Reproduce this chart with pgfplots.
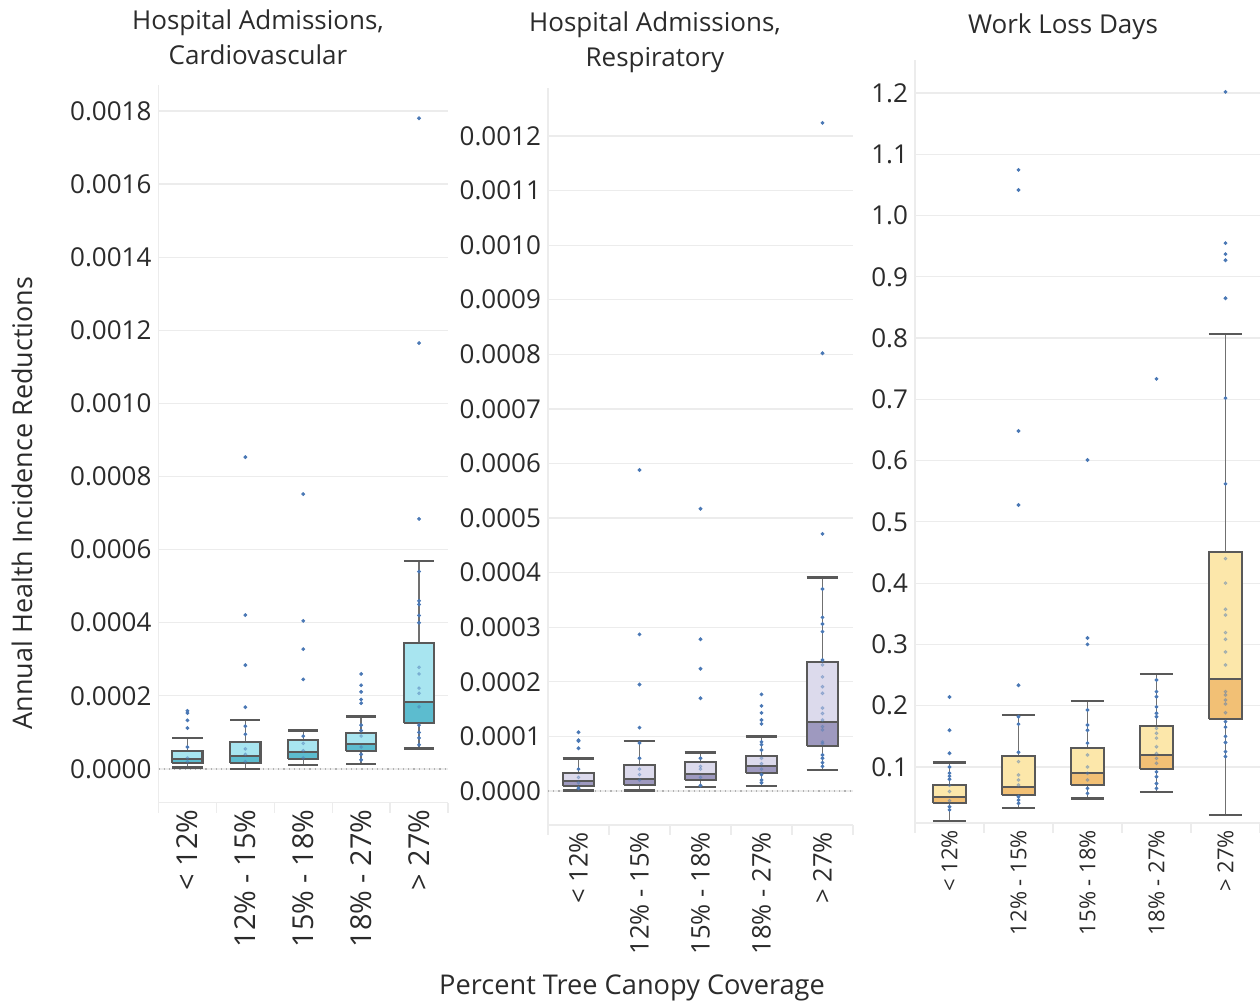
\documentclass[border=0pt]{standalone}
\usepackage{fontspec}
\setmainfont{Open Sans}
\usepackage{pgfplots}
\pgfplotsset{compat=1.18}
\definecolor{labc}{HTML}{2B2B2B}
\definecolor{gridc}{HTML}{ECECEC}
\definecolor{bxc}{HTML}{595959}
\definecolor{whc}{HTML}{707070}
\definecolor{dotc}{HTML}{4A78B5}
\definecolor{c1l}{HTML}{A8E5F0}
\definecolor{c1d}{HTML}{5CBCCF}
\definecolor{c2l}{HTML}{DCDAEC}
\definecolor{c2d}{HTML}{9E99BF}
\definecolor{c3l}{HTML}{FCE7AA}
\definecolor{c3d}{HTML}{F2C075}
% #1 left, #2 centre, #3 right, #4 lower whisker, #5 Q1, #6 median, #7 Q3, #8 upper whisker
\newcommand{\bx}[8]{%
\addplot[draw=whc, line width=0.7pt] coordinates {(#2,#4) (#2,#5)};
\addplot[draw=whc, line width=0.7pt] coordinates {(#2,#7) (#2,#8)};
\addplot[draw=bxc, line width=1.4pt] coordinates {(#1,#4) (#3,#4)};
\addplot[draw=bxc, line width=1.4pt] coordinates {(#1,#8) (#3,#8)};
\addplot[draw=bxc, line width=1.1pt, fill=lightc] coordinates {(#1,#6) (#3,#6) (#3,#7) (#1,#7) (#1,#6)};
\addplot[draw=bxc, line width=1.1pt, fill=darkc] coordinates {(#1,#5) (#3,#5) (#3,#6) (#1,#6) (#1,#5)};
}
\pgfplotsset{
  panel/.style={
    scale only axis, anchor=south west,
    xmin=-0.5, xmax=4.5,
    xtick={0,1,2,3,4},
    xticklabels={{< 12\%},{12\% - 15\%},{15\% - 18\%},{18\% - 27\%},{> 27\%}},
    x tick label style={rotate=90, anchor=east, text=labc},
    minor xtick={-0.5,0.5,1.5,2.5,3.5,4.5},
    major tick length=0pt, minor tick length=5pt,
    tick align=outside,
    tick style={draw=gridc, line width=0.6pt},
    axis lines*=left,
    axis line style={draw=gridc, line width=0.6pt},
    ymajorgrids, grid style={draw=gridc, line width=0.6pt},
    y tick label style={font=\fontsize{13}{15}\selectfont, text=labc},
    scaled y ticks=false,
  },
  idots/.style={only marks, mark=*, mark size=0.75pt, color=dotc, opacity=0.35},
  wdots/.style={only marks, mark=*, mark size=0.75pt, color=dotc},
}
\begin{document}
\begin{tikzpicture}
\useasboundingbox (0,0) rectangle (630pt,502pt);
% ---------- Panel 1 ----------
\colorlet{lightc}{c1l}\colorlet{darkc}{c1d}
\begin{axis}[panel, at={(79.25pt,100.65pt)}, width=144.75pt, height=358.85pt,
  ymin=-0.0000922, ymax=0.001871,
  x tick label style={font=\fontsize{14.4}{16}\selectfont},
  ytick={0,0.0002,0.0004,0.0006,0.0008,0.0010,0.0012,0.0014,0.0016,0.0018},
  yticklabel style={/pgf/number format/fixed, /pgf/number format/fixed zerofill, /pgf/number format/precision=4, /pgf/number format/assume math mode=true}]
\addplot[draw=gray!60, dotted, line width=0.6pt] coordinates {(-0.5,0) (4.5,0)};
\bx{-0.26}{0}{0.26}{0.0000046}{0.0000156}{0.0000265}{0.0000492}{0.0000848}
\bx{0.74}{1}{1.26}{0.0000000}{0.0000156}{0.0000356}{0.0000730}{0.000134}
\bx{1.74}{2}{2.26}{0.0000109}{0.0000282}{0.0000465}{0.0000793}{0.000106}
\bx{2.74}{3}{3.26}{0.0000137}{0.0000500}{0.0000675}{0.0000976}{0.000144}
\bx{3.74}{4}{4.26}{0.0000566}{0.000125}{0.000184}{0.000345}{0.000569}
\addplot[idots] coordinates {(0,0.00003) (0,0.00002) (1,0.000055) (1,0.00004) (1,0.00002) (2,0.00007) (2,0.00005) (2,0.00003)
 (3,0.00009) (3,0.00006) (4,0.000278) (4,0.00026) (4,0.000221) (4,0.000207) (4,0.00017)};
\addplot[wdots] coordinates {(0,0.00006) (0,0.000159) (0,0.000153) (0,0.000133) (0,0.000112)
 (1,0.000117) (1,0.000095) (1,0.000169) (1,0.000284) (1,0.000421) (1,0.000853)
 (2,0.00009) (2,0.000245) (2,0.000328) (2,0.000405) (2,0.000752)
 (3,0.00012) (3,0.000105) (3,0.00004) (3,0.000025) (3,0.00018) (3,0.00019) (3,0.000211) (3,0.000229) (3,0.00026)
 (4,0.00054) (4,0.00046) (4,0.00045) (4,0.00042) (4,0.0004) (4,0.00012) (4,0.0001) (4,0.000085) (4,0.000066)
 (4,0.000684) (4,0.001165) (4,0.00178)};
\end{axis}
% ---------- Panel 2 ----------
\colorlet{lightc}{c2l}\colorlet{darkc}{c2d}
\begin{axis}[panel, at={(274pt,89.5pt)}, width=152.5pt, height=368.5pt,
  ymin=-0.0000623, ymax=0.001288,
  x tick label style={font=\fontsize{12.8}{15}\selectfont},
  ytick={0,0.0001,0.0002,0.0003,0.0004,0.0005,0.0006,0.0007,0.0008,0.0009,0.0010,0.0011,0.0012},
  yticklabel style={/pgf/number format/fixed, /pgf/number format/fixed zerofill, /pgf/number format/precision=4, /pgf/number format/assume math mode=true}]
\addplot[draw=gray!60, dotted, line width=0.6pt] coordinates {(-0.5,0) (4.5,0)};
\bx{-0.26}{0}{0.26}{0.0000006}{0.0000098}{0.0000189}{0.0000324}{0.0000592}
\bx{0.74}{1}{1.26}{0.0000006}{0.0000110}{0.0000220}{0.0000476}{0.0000916}
\bx{1.74}{2}{2.26}{0.0000073}{0.0000202}{0.0000311}{0.0000537}{0.0000709}
\bx{2.74}{3}{3.26}{0.0000092}{0.0000336}{0.0000458}{0.0000647}{0.0000995}
\bx{3.74}{4}{4.26}{0.0000385}{0.0000830}{0.000126}{0.000237}{0.000391}
\addplot[idots] coordinates {(0,0.000025) (0,0.000015) (1,0.00004) (1,0.00003) (1,0.00002) (2,0.000045) (2,0.00004) (2,0.000025)
 (3,0.00006) (3,0.00005) (3,0.00004) (4,0.000231) (4,0.000209) (4,0.000191) (4,0.000179) (4,0.000152) (4,0.000142) (4,0.00013) (4,0.000118) (4,0.000112) (4,0.00009) (4,0.000087)};
\addplot[wdots] coordinates {(0,0.00004) (0,0.000005) (0,0.0000782) (0,0.0000916) (0,0.000093) (0,0.0001075)
 (1,0.000088) (1,0.00006) (1,0.000116) (1,0.000195) (1,0.000287) (1,0.000588)
 (2,0.00006) (2,0.00001) (2,0.00017) (2,0.000224) (2,0.000278) (2,0.000517)
 (3,0.00009) (3,0.000085) (3,0.000075) (3,0.00003) (3,0.00002) (3,0.000015) (3,0.000123) (3,0.00013) (3,0.000143) (3,0.000156) (3,0.000177)
 (4,0.00037) (4,0.000318) (4,0.000306) (4,0.000292) (4,0.00024) (4,0.000066) (4,0.00006) (4,0.000052) (4,0.000045)
 (4,0.000471) (4,0.000802) (4,0.001224)};
\end{axis}
% ---------- Panel 3 ----------
\colorlet{lightc}{c3l}\colorlet{darkc}{c3d}
\begin{axis}[panel, at={(457.5pt,90.5pt)}, width=172.5pt, height=381.5pt,
  ymin=0.0086, ymax=1.2538,
  x tick label style={font=\fontsize{11}{13}\selectfont},
  ytick={0.1,0.2,0.3,0.4,0.5,0.6,0.7,0.8,0.9,1.0,1.1,1.2},
  yticklabel style={/pgf/number format/fixed, /pgf/number format/fixed zerofill, /pgf/number format/precision=1, /pgf/number format/assume math mode=true}]
\bx{-0.24}{0}{0.24}{0.0119}{0.0407}{0.051}{0.0711}{0.107}
\bx{0.76}{1}{1.24}{0.0331}{0.0538}{0.0679}{0.118}{0.1849}
\bx{1.76}{2}{2.24}{0.0483}{0.0706}{0.0902}{0.1315}{0.2077}
\bx{2.76}{3}{3.24}{0.0592}{0.0967}{0.1196}{0.1674}{0.2518}
\bx{3.76}{4}{4.24}{0.0217}{0.1779}{0.2431}{0.4509}{0.8067}
\addplot[idots] coordinates {(0,0.07) (0,0.06) (0,0.045) (1,0.1087) (1,0.087) (1,0.0788) (1,0.0706)
 (2,0.1196) (2,0.1) (2,0.0897) (2,0.0788) (3,0.163) (3,0.155) (3,0.147) (3,0.133) (3,0.122) (3,0.114) (3,0.106)
 (4,0.44) (4,0.40) (4,0.3574) (4,0.348) (4,0.3192) (4,0.3084) (4,0.2877) (4,0.2665) (4,0.2229) (4,0.2175) (4,0.2093) (4,0.2028) (4,0.1886)};
\addplot[wdots] coordinates {(0,0.1) (0,0.09) (0,0.085) (0,0.08) (0,0.035) (0,0.03) (0,0.1224) (0,0.16) (0,0.2142)
 (1,0.182) (1,0.17) (1,0.124) (1,0.0515) (1,0.046) (1,0.0407) (1,0.2333) (1,0.5276) (1,0.6484) (1,1.0417) (1,1.0744)
 (2,0.193) (2,0.1685) (2,0.16) (2,0.139) (2,0.065) (2,0.057) (2,0.3) (2,0.3105) (2,0.601)
 (3,0.242) (3,0.223) (3,0.2147) (3,0.198) (3,0.1876) (3,0.182) (3,0.092) (3,0.084) (3,0.073) (3,0.065) (3,0.7333)
 (4,0.702) (4,0.562) (4,0.174) (4,0.165) (4,0.15) (4,0.14) (4,0.125) (4,0.117)
 (4,0.865) (4,0.927) (4,0.937) (4,0.955) (4,1.2017)};
\end{axis}
% ---------- Titles and labels ----------
\node[align=center, text=labc, font=\fontsize{13}{17.5}\selectfont] at (129pt,483.25pt) {Hospital Admissions,\\Cardiovascular};
\node[align=center, text=labc, font=\fontsize{13}{17.5}\selectfont] at (327.5pt,481pt) {Hospital Admissions,\\Respiratory};
\node[text=labc, font=\fontsize{13}{15}\selectfont] at (531.5pt,488.5pt) {Work Loss Days};
\node[rotate=90, text=labc, font=\fontsize{13.5}{15}\selectfont] at (11pt,250.5pt) {Annual Health Incidence Reductions};
\node[text=labc, font=\fontsize{13.6}{15}\selectfont] at (316pt,8pt) {Percent Tree Canopy Coverage};
\end{tikzpicture}
\end{document}
